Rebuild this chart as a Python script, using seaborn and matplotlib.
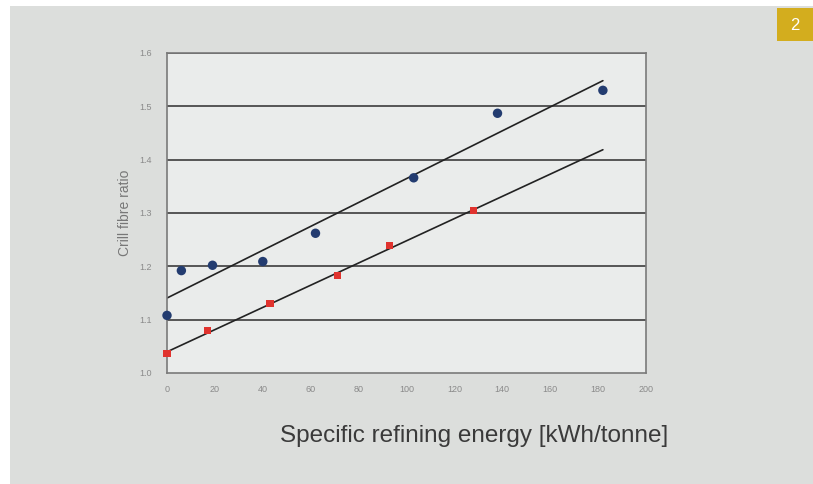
import matplotlib
matplotlib.use('Agg')
import matplotlib.pyplot as plt
import seaborn as sns
import numpy as np
import pandas as pd
from matplotlib.patches import Rectangle

# values
energy_blue = [0, 6, 19, 40, 62, 103, 138, 182]
ratio_blue = [1.108, 1.192, 1.202, 1.209, 1.262, 1.366, 1.487, 1.530]
energy_red = [0, 17, 43, 71, 93, 128]
ratio_red = [1.036, 1.079, 1.131, 1.182, 1.239, 1.304]
x_ticks = [0, 20, 40, 60, 80, 100, 120, 140, 160, 180, 200]
y_ticks = [1.0, 1.1, 1.2, 1.3, 1.4, 1.5, 1.6]

blue = pd.DataFrame({'energy': energy_blue, 'ratio': ratio_blue})
red = pd.DataFrame({'energy': energy_red, 'ratio': ratio_red})

# excel-style linear trendlines, both run out to the last blue point
fit_x = np.array([0, max(energy_blue)])
trend = []
for name, d in [('blue', blue), ('red', red)]:
    k, b = np.polyfit(d.energy, d.ratio, 1)
    trend.append(pd.DataFrame({'energy': fit_x, 'ratio': k * fit_x + b, 'series': name}))
trend = pd.concat(trend)

sns.set_style('white')
plt.rcParams['font.family'] = ['Liberation Sans', 'DejaVu Sans']

fig = plt.figure(figsize=(8.13, 4.84), dpi=100)
fig.patch.set_facecolor('white')
# photo background
fig.patches.append(Rectangle((10 / 813, 0), 1, 1 - 6 / 484, transform=fig.transFigure,
                             facecolor='#dcdedc', edgecolor='none', zorder=-10))
# yellow badge
fig.patches.append(Rectangle((777 / 813, 1 - 41 / 484), 36 / 813, 33 / 484, transform=fig.transFigure,
                             facecolor='#d3ad1e', edgecolor='none', zorder=-5))
fig.text(795 / 813, 1 - 25 / 484, '2', color='white', fontsize=12, ha='center', va='center')

ax = fig.add_axes([167 / 813, 1 - 373 / 484, 479 / 813, 320 / 484])
ax.set_facecolor('#eaeceb')

for yv in y_ticks[1:]:
    ax.axhline(yv, color='#555555', lw=1.4, zorder=1)

sns.lineplot(data=trend, x='energy', y='ratio', units='series', estimator=None,
             color='#222222', lw=1.2, ax=ax, zorder=2)
sns.scatterplot(data=blue, x='energy', y='ratio', color='#233c70', s=46,
                edgecolor='none', ax=ax, zorder=4, clip_on=False)
sns.scatterplot(data=red, x='energy', y='ratio', color='#e0332e', marker='s', s=26,
                edgecolor='none', ax=ax, zorder=4, clip_on=False)

ax.set_xlim(0, 200)
ax.set_ylim(1.0, 1.6)
ax.set_xticks(x_ticks)
ax.set_yticks(y_ticks)
ax.set_xticklabels([str(v) for v in x_ticks])
ax.set_yticklabels([f'{v:.1f}' for v in y_ticks])
ax.tick_params(axis='both', labelsize=6.5, colors='#8a8a8a', length=3, width=0.8)
ax.tick_params(axis='x', pad=6)
ax.tick_params(axis='y', pad=8)
for s in ax.spines.values():
    s.set_color('#7a7a7a')
    s.set_linewidth(1.2)
ax.set_xlabel('')
ax.set_ylabel('Crill fibre ratio', fontsize=10, color='#777777', labelpad=5)

fig.text(280 / 813, 1 - 436 / 484, 'Specific refining energy [kWh/tonne]',
         fontsize=17.5, color='#3a3a3a', ha='left', va='center')

fig.savefig('out.png', dpi=100)
